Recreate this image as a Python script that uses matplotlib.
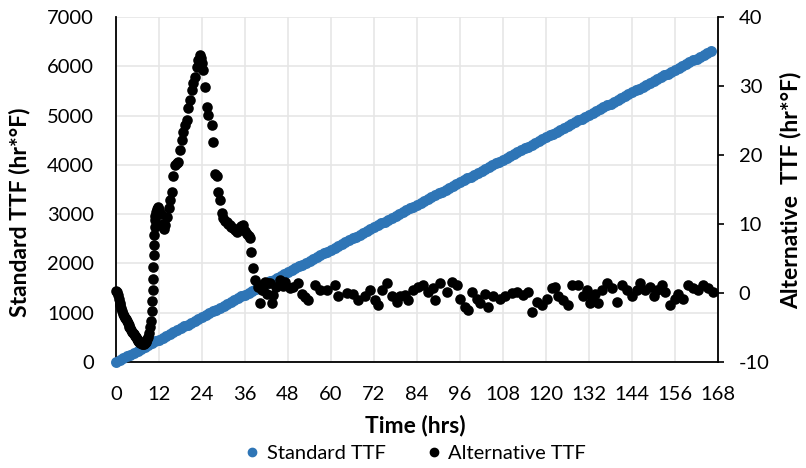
import matplotlib
matplotlib.use("Agg")
import matplotlib.pyplot as plt
from matplotlib.lines import Line2D

plt.rcParams['font.family'] = ['Lato', 'DejaVu Sans']
plt.rcParams['axes.unicode_minus'] = False

# ---------------- data ----------------
std_ttf = [0, 38, 76, 114, 152, 190, 228, 266, 304, 342, 380, 418, 456, 494, 532, 570, 608, 646,
           684, 722, 760, 798, 836, 874, 912, 950, 988, 1026, 1064, 1102, 1140, 1178, 1216, 1254,
           1292, 1330, 1368, 1406, 1444, 1482, 1520, 1558, 1596, 1634, 1672, 1710, 1748, 1786,
           1824, 1862, 1900, 1938, 1976, 2014, 2052, 2090, 2128, 2166, 2204, 2242, 2280, 2318,
           2356, 2394, 2432, 2470, 2508, 2546, 2584, 2622, 2660, 2698, 2736, 2774, 2812, 2850,
           2888, 2926, 2964, 3002, 3040, 3078, 3116, 3154, 3192, 3230, 3268, 3306, 3344, 3382,
           3420, 3458, 3496, 3534, 3572, 3610, 3648, 3686, 3724, 3762, 3800, 3838, 3876, 3914,
           3952, 3990, 4028, 4066, 4104, 4142, 4180, 4218, 4256, 4294, 4332, 4370, 4408, 4446,
           4484, 4522, 4560, 4598, 4636, 4674, 4712, 4750, 4788, 4826, 4864, 4902, 4940, 4978,
           5016, 5054, 5092, 5130, 5168, 5206, 5244, 5282, 5320, 5358, 5396, 5434, 5472, 5510,
           5548, 5586, 5624, 5662, 5700, 5738, 5776, 5814, 5852, 5890, 5928, 5966, 6004, 6042,
           6080, 6118, 6156, 6194, 6232, 6270, 6308]
std_time = list(range(len(std_ttf)))

alt_time = [0, 0.25, 0.5, 0.75, 1, 1.25, 1.5, 1.75, 2, 2.25, 2.5, 2.75, 3, 3.25, 3.5, 3.75, 4, 4.25,
            4.5, 4.75, 5, 5.25, 5.5, 5.75, 6, 6.25, 6.5, 6.75, 7, 7.25, 7.5, 7.75, 8, 8.25, 8.5, 8.75,
            9, 9.25, 9.5, 9.75, 10, 10.1, 10.2, 10.3, 10.4, 10.5, 10.6, 10.7, 10.8, 10.9, 11, 11.2,
            11.4, 11.6, 11.8, 12,
            12.5, 13.0, 13.3, 13.7, 14.2, 14.7, 15.1, 15.5, 16.0, 16.5, 17.0, 17.4, 17.9, 18.3, 18.8,
            19.3, 19.7, 20.2, 20.7, 21.1, 21.6, 22.0, 22.5, 23.0, 23.4, 23.6, 23.9, 24.4, 24.8, 25.3,
            25.8, 26.7, 27.2, 27.6, 28.1, 28.6, 29.0, 29.5, 29.9, 30.4, 30.9, 31.3, 31.8, 32.2, 32.7,
            33.2, 33.7, 34.3, 35.0, 35.5, 36.0, 36.5, 37.0, 37.4, 37.6, 38.1, 38.8, 39.7,
            40.2, 40.3, 40.7, 41.1, 41.6, 42.1, 42.3, 43.0, 43.5, 43.9, 44.6, 45.8, 46.5, 47.2, 48.6,
            49.5, 50.9, 51.8, 52.8, 53.7, 55.5, 56.9, 58.8, 61.1, 62.0, 64.4, 66.2, 67.6, 69.5, 70.9,
            72.3, 73.2, 74.2, 75.5, 76.9, 78.3, 79.3, 80.7, 81.6, 83.0, 84.4, 85.8, 87.2, 88.6, 89.0,
            90.4, 92.3, 93.7, 95.1, 96.0, 97.4, 98.3, 99.3, 100.7, 101.5, 103.0, 103.9, 105.3, 107.2,
            108.6, 110.4, 111.8, 113.7, 115.1, 116.0, 117.4, 118.8, 120.2, 121.6, 122.5, 123.4,
            124.8, 126.2, 127.2, 129.0, 130.4, 131.4, 132.3, 132.8, 133.7, 134.5, 135.5, 136.9,
            138.3, 139.7, 141.1, 142.5, 143.9, 145.3, 146.2, 147.6, 149.0, 150.0, 150.9, 152.3,
            153.2, 154.6, 156.0, 156.9, 158.3, 159.7, 161.1, 162.5, 163.9, 165.3, 166.5]
alt_ttf = [0.3, 0.2, -0.3, -0.9, -1.4, -1.8, -2.2, -2.6, -3.0, -3.3, -3.6, -3.8, -4.0, -4.3, -4.6,
           -4.9, -5.1, -5.4, -5.6, -5.8, -6.0, -6.2, -6.4, -6.6, -6.8, -7.0, -7.1, -7.2, -7.3, -7.4,
           -7.4, -7.4, -7.3, -7.1, -6.9, -6.7, -6.4, -5.8, -5.0, -4.0, -2.6, -1.2, 0.4, 2.0, 3.8, 5.5,
           7.0, 8.4, 9.6, 10.6, 11.2, 11.8, 12.2, 12.4, 12.3, 12.0,
           11.5, 10.0, 9.3, 9.8, 11.0, 12.3, 13.5, 14.7, 16.9, 18.6, 18.9, 19.0, 20.7, 22.2, 23.4,
           24.3, 25.1, 26.8, 28.0, 29.4, 30.4, 31.3, 32.8, 33.8, 34.5, 34.0, 33.3, 32.3, 29.9, 27.0,
           25.8, 24.3, 21.9, 17.3, 16.9, 14.7, 13.5, 11.6, 10.8, 10.5, 10.3, 10.0, 9.8, 9.6, 9.4,
           9.1, 8.9, 9.2, 9.7, 9.9, 9.0, 8.6, 8.2, 7.9, 6.0, 3.6, 1.9, 0.9,
           1.2, -1.5, 0.4, 0.4, 1.6, -0.1, 1.4, 1.4, -1.5, -0.3, 0.8, 1.9, 1.0, 1.6, 0.7,
           0.9, 1.4, -0.1, -0.6, -1.0, 1.2, 0.4, 0.4, 1.2, -0.5, 0.0, -0.1, -1.0, -0.5, 0.4,
           -1.0, -1.7, 0.4, 1.4, -0.5, -1.3, -0.5, -0.3, -1.0, 0.4, 0.9, 1.2, 0.2, 0.7, -1.0,
           1.4, 0.2, 1.6, 1.2, -0.8, -2.0, -2.5, 0.2, -0.8, -1.5, -0.1, -2.0, -0.5, -0.8,
           -0.5, 0.0, 0.2, -0.3, 0.2, -2.7, -1.3, -1.7, -0.8, 0.7, 0.9, -0.5,
           -1.0, -1.7, 1.2, 1.2, -0.5, 0.4, -1.5, -0.5, -0.1, -1.5, 0.4, 1.4,
           0.7, -1.3, 1.2, 0.4, -0.5, 0.4, 1.4, 0.4, 0.9, -0.5, 0.4, 1.2,
           0.2, -1.7, -0.8, -0.1, -0.8, 1.2, 0.7, 0.4, 1.2, 0.7, 0.2]

x_ticks = [0, 12, 24, 36, 48, 60, 72, 84, 96, 108, 120, 132, 144, 156, 168]
left_ticks = [0, 1000, 2000, 3000, 4000, 5000, 6000, 7000]
right_ticks = [-10, 0, 10, 20, 30, 40]

BLUE = '#2E75B6'
W, H = 806, 468

fig = plt.figure(figsize=(W / 100, H / 100), dpi=100)
ax = fig.add_axes([116 / W, 106 / H, 602 / W, 345 / H])
ax2 = ax.twinx()

ax.scatter(std_time, std_ttf, s=62, color=BLUE, linewidths=0, zorder=3, clip_on=False)
ax2.scatter(alt_time, alt_ttf, s=58, color='black', linewidths=0, zorder=3, clip_on=False)

ax.set_xlim(0, 168)
ax.set_ylim(0, 7000)
ax2.set_ylim(-10, 40)
ax.set_xticks(x_ticks)
ax.set_yticks(left_ticks)
ax2.set_yticks(right_ticks)

ax.set_axisbelow(True)
ax.grid(True, color='#E6E6E6', lw=1.2)

for s in ['top', 'right']:
    ax.spines[s].set_visible(False)
for s in ['top', 'left', 'bottom']:
    ax2.spines[s].set_visible(False)
for sp in [ax.spines['left'], ax.spines['bottom'], ax2.spines['right']]:
    sp.set_color('black')
    sp.set_linewidth(1.3)

ax.tick_params(axis='y', length=0, pad=16, labelsize=14.5)
ax.tick_params(axis='x', length=0, pad=17, labelsize=14.5)
ax2.tick_params(axis='y', length=4, width=1.2, direction='out', pad=11, labelsize=14.5)

fig.text(20 / W, 1 - 212 / H, 'Standard TTF (hr*°F)', rotation=90, ha='center', va='center',
         fontsize=16.5, fontweight='bold')
fig.text(791 / W, 1 - 190 / H, 'Alternative  TTF (hr*°F)', rotation=90, ha='center', va='center',
         fontsize=16.5, fontweight='bold')
fig.text(415 / W, 1 - 425 / H, 'Time (hrs)', ha='center', va='center', fontsize=16.5,
         fontweight='bold')

handles = [Line2D([], [], marker='o', ls='', color=BLUE, markersize=6),
           Line2D([], [], marker='o', ls='', color='black', markersize=6)]
fig.legend(handles, ['Standard TTF', 'Alternative TTF'], loc='center',
           bbox_to_anchor=(416 / W, 1 - 453 / H), ncol=2, frameon=False, fontsize=14.5,
           handlelength=0.6, handletextpad=0.4, columnspacing=2.1, borderpad=0)

fig.savefig('out.png', dpi=100)
